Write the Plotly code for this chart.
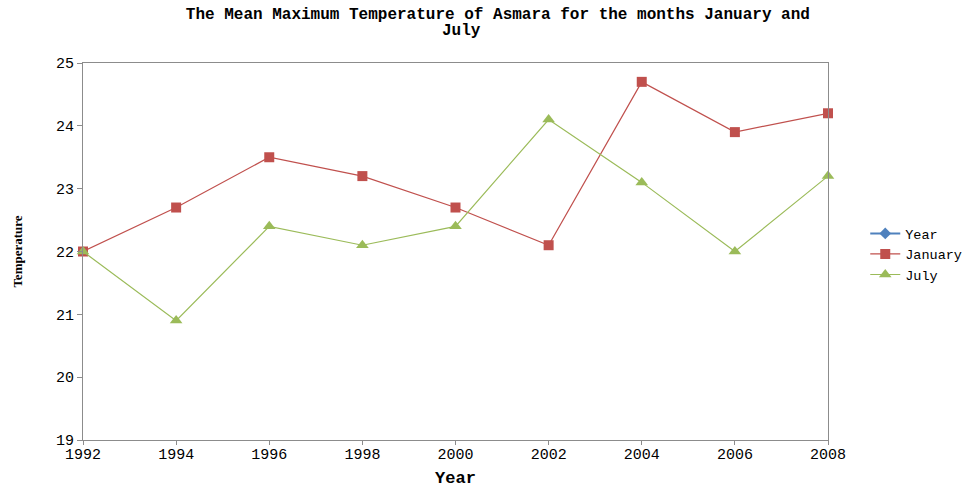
import plotly.graph_objects as go

years = [1992, 1994, 1996, 1998, 2000, 2002, 2004, 2006, 2008]
january = [22.0, 22.7, 23.5, 23.2, 22.7, 22.1, 24.7, 23.9, 24.2]
july = [22.0, 20.9, 22.4, 22.1, 22.4, 24.1, 23.1, 22.0, 23.2]
y_ticks = [19, 20, 21, 22, 23, 24, 25]

title_line1 = "The Mean Maximum Temperature of Asmara for the months January and"
title_line2 = "July"

mono = "Liberation Mono"
serif = "Liberation Serif"

fig = go.Figure()

# "Year" series only appears in the legend (its values lie far off this scale)
fig.add_trace(go.Scatter(
    x=[None], y=[None], name="Year", mode="lines+markers",
    line=dict(color="#4F81BD", width=2),
    marker=dict(symbol="diamond", size=9, color="#4F81BD"),
))
fig.add_trace(go.Scatter(
    x=years, y=january, name="January", mode="lines+markers",
    line=dict(color="#C0504D", width=1.2),
    marker=dict(symbol="square", size=10, color="#C0504D"),
    cliponaxis=False,
))
fig.add_trace(go.Scatter(
    x=years, y=july, name="July", mode="lines+markers",
    line=dict(color="#9BBB59", width=1.2),
    marker=dict(symbol="triangle-up", size=11, color="#9BBB59"),
    cliponaxis=False,
))

fig.update_layout(
    width=980, height=488,
    margin=dict(l=83, r=152, t=63, b=48, autoexpand=False),
    paper_bgcolor="white", plot_bgcolor="white",
    title=dict(
        text="<b>" + title_line1 + "</b>",
        x=0.508, xanchor="center", y=1 - 13 / 488, yanchor="middle",
        font=dict(family=mono, size=16, color="black"),
    ),
    font=dict(family=mono, size=15, color="black"),
    showlegend=True,
    legend=dict(
        x=1.05, xanchor="left", y=0.493, yanchor="middle",
        font=dict(family=mono, size=13.5, color="black"),
        tracegroupgap=0,
        bgcolor="rgba(0,0,0,0)",
    ),
    xaxis=dict(
        range=[1992, 2008], tickvals=years, ticktext=[str(y) for y in years],
        showgrid=False, zeroline=False, automargin=False,
        showline=True, linecolor="#8c8c8c", linewidth=1, mirror=True,
        ticks="outside", ticklen=4, tickcolor="#8c8c8c",
        tickfont=dict(family=mono, size=15), ticklabelstandoff=-4,
        title=dict(text="<b>Year</b>", font=dict(family=mono, size=17), standoff=12),
    ),
    yaxis=dict(
        range=[19, 25], tickvals=y_ticks,
        showgrid=False, zeroline=False, automargin=False,
        showline=True, linecolor="#8c8c8c", linewidth=1, mirror=True,
        ticks="outside", ticklen=5, tickcolor="#8c8c8c",
        tickfont=dict(family=mono, size=15),
        title=dict(text="<b>Temperature</b>", font=dict(family=serif, size=13), standoff=30),
    ),
    annotations=[dict(
        text="<b>" + title_line2 + "</b>", xref="paper", yref="paper",
        x=0.508, y=1 + (63 - 31) / 377, xanchor="center", yanchor="middle",
        showarrow=False, font=dict(family=mono, size=16, color="black"),
    )],
)

fig.write_html("out.html")
